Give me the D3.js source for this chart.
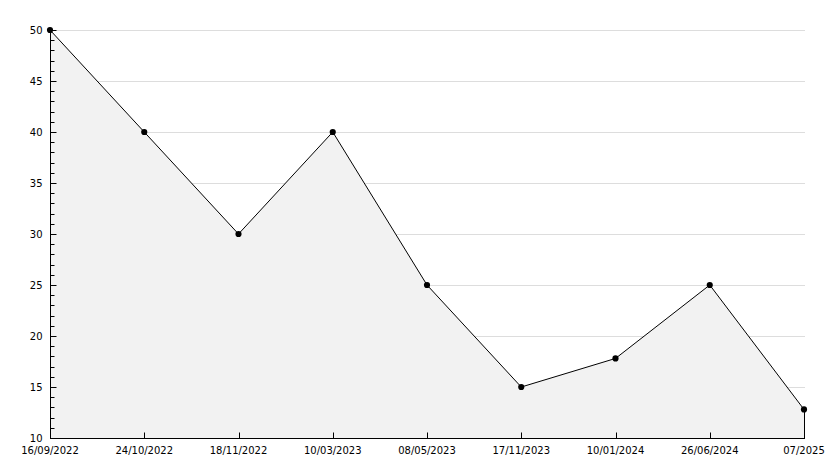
<!DOCTYPE html>
<html>
<head>
<meta charset="utf-8">
<script src="https://cdn.jsdelivr.net/npm/d3@7"></script>
<style>
  html, body { margin: 0; padding: 0; background: #fff; }
  svg { display: block; }
  text { font-family: "DejaVu Sans", sans-serif; font-size: 10px; fill: #000; }
</style>
</head>
<body>
<svg id="chart" width="834" height="468"></svg>
<script>
const categories = ["16/09/2022", "24/10/2022", "18/11/2022", "10/03/2023", "08/05/2023", "17/11/2023", "10/01/2024", "26/06/2024", "07/2025"];
const values = [50, 40, 30, 40, 25, 15, 17.8, 25, 12.8];
const yTicks = [10, 15, 20, 25, 30, 35, 40, 45, 50];
const yMinorTicks = d3.range(10, 51, 1);

const svg = d3.select("#chart");
const margin = { left: 50, right: 30, top: 30, bottom: 30 };
const W = 834, H = 468;
const x = d3.scalePoint().domain(categories).range([margin.left, W - margin.right]);
const y = d3.scaleLinear().domain([10, 50]).range([H - margin.bottom, margin.top]);

// grid
svg.append("g").selectAll("line").data(yTicks.filter(d => d !== 10)).join("line")
  .attr("x1", margin.left).attr("x2", W - margin.right + 1)
  .attr("y1", d => Math.round(y(d)) + 0.5).attr("y2", d => Math.round(y(d)) + 0.5)
  .attr("stroke", "#dddddd").attr("stroke-width", 1);

// area
const pts = categories.map((c, i) => ({ c, v: values[i] }));
const area = d3.area().x(d => x(d.c)).y0(y(10)).y1(d => y(d.v));
svg.append("path").datum(pts).attr("d", area).attr("fill", "#f2f2f2");

// line
const line = d3.line().x(d => x(d.c)).y(d => y(d.v));
svg.append("path").datum(pts).attr("d", line).attr("fill", "none").attr("stroke", "#000").attr("stroke-width", 1);

// right edge of area
svg.append("line")
  .attr("x1", x(categories[categories.length - 1]) + 0.5).attr("x2", x(categories[categories.length - 1]) + 0.5)
  .attr("y1", y(values[values.length - 1])).attr("y2", y(10))
  .attr("stroke", "#000").attr("stroke-width", 1);

// y axis
const yAxis = svg.append("g").attr("transform", `translate(${margin.left + 0.5},0)`);
yAxis.append("line").attr("x1", 0).attr("x2", 0).attr("y1", y(50)).attr("y2", y(10) + 1).attr("stroke", "#000");
yAxis.selectAll("line.minor").data(yMinorTicks.filter(d => d % 5 !== 0)).join("line").attr("class", "minor")
  .attr("x1", 0).attr("x2", 4)
  .attr("y1", d => Math.round(y(d)) + 0.5).attr("y2", d => Math.round(y(d)) + 0.5).attr("stroke", "#000");
yAxis.selectAll("line.major").data(yTicks).join("line").attr("class", "major")
  .attr("x1", 0).attr("x2", 6)
  .attr("y1", d => Math.round(y(d)) + 0.5).attr("y2", d => Math.round(y(d)) + 0.5).attr("stroke", "#000");
yAxis.selectAll("text").data(yTicks).join("text")
  .attr("x", -8).attr("y", d => y(d)).attr("dy", "0.35em").attr("text-anchor", "end")
  .text(d => d);

// x axis
const xAxis = svg.append("g").attr("transform", `translate(0,${Math.round(y(10)) + 0.5})`);
xAxis.append("line").attr("x1", margin.left).attr("x2", W - margin.right + 1).attr("y1", 0).attr("y2", 0).attr("stroke", "#000");
xAxis.selectAll("line.tick").data(categories).join("line").attr("class", "tick")
  .attr("x1", d => Math.round(x(d)) + 0.5).attr("x2", d => Math.round(x(d)) + 0.5)
  .attr("y1", 0).attr("y2", -6).attr("stroke", "#000");
xAxis.selectAll("text").data(categories).join("text")
  .attr("x", d => x(d)).attr("y", 15).attr("text-anchor", "middle")
  .text(d => d);

// markers
svg.append("g").selectAll("path").data(pts).join("path")
  .attr("transform", d => `translate(${x(d.c)},${y(d.v)})`)
  .attr("d", d3.symbol().type(d3.symbolCircle).size(30))
  .attr("fill", "#000");
</script>
</body>
</html>
